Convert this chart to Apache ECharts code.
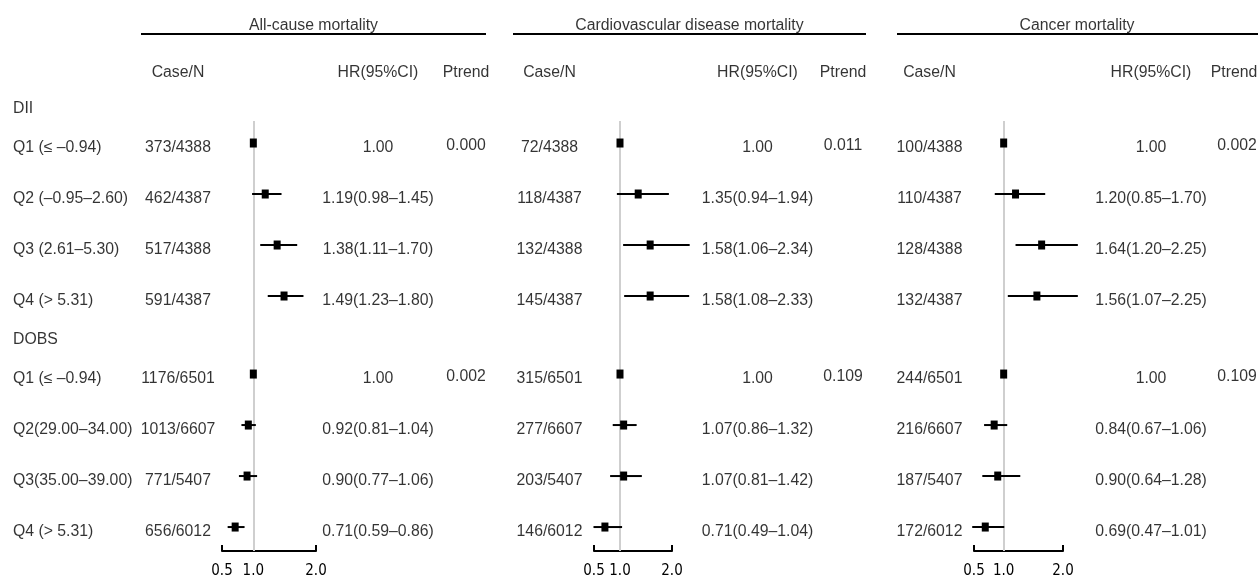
<!DOCTYPE html>
<html>
<head>
<meta charset="utf-8">
<script src="https://cdn.jsdelivr.net/npm/echarts@6/dist/echarts.min.js"></script>
<style>
  html, body { margin: 0; padding: 0; background: #fff; }
  #forest { width: 1258px; height: 578px; }
</style>
</head>
<body>
<div id="forest"></div>
<script>
// ---- data ----
const rowLabels = ['DII', 'Q1 (≤ –0.94)', 'Q2 (–0.95–2.60)', 'Q3 (2.61–5.30)', 'Q4 (> 5.31)',
                   'DOBS', 'Q1 (≤ –0.94)', 'Q2(29.00–34.00)', 'Q3(35.00–39.00)', 'Q4 (> 5.31)'];
const isHeading = [true, false, false, false, false, true, false, false, false, false];
const panelTitles = ['All-cause mortality', 'Cardiovascular disease mortality', 'Cancer mortality'];
const tickValues = [0.5, 1.0, 2.0];

const allCases = ['', '373/4388', '462/4387', '517/4388', '591/4387', '', '1176/6501', '1013/6607', '771/5407', '656/6012'];
const allHr = [null, 1.00, 1.19, 1.38, 1.49, null, 1.00, 0.92, 0.90, 0.71];
const allLo = [null, null, 0.98, 1.11, 1.23, null, null, 0.81, 0.77, 0.59];
const allHi = [null, null, 1.45, 1.70, 1.80, null, null, 1.04, 1.06, 0.86];
const allP = ['', '0.000', '', '', '', '', '0.002', '', '', ''];

const cvdCases = ['', '72/4388', '118/4387', '132/4388', '145/4387', '', '315/6501', '277/6607', '203/5407', '146/6012'];
const cvdHr = [null, 1.00, 1.35, 1.58, 1.58, null, 1.00, 1.07, 1.07, 0.71];
const cvdLo = [null, null, 0.94, 1.06, 1.08, null, null, 0.86, 0.81, 0.49];
const cvdHi = [null, null, 1.94, 2.34, 2.33, null, null, 1.32, 1.42, 1.04];
const cvdP = ['', '0.011', '', '', '', '', '0.109', '', '', ''];

const canCases = ['', '100/4388', '110/4387', '128/4388', '132/4387', '', '244/6501', '216/6607', '187/5407', '172/6012'];
const canHr = [null, 1.00, 1.20, 1.64, 1.56, null, 1.00, 0.84, 0.90, 0.69];
const canLo = [null, null, 0.85, 1.20, 1.07, null, null, 0.67, 0.64, 0.47];
const canHi = [null, null, 1.70, 2.25, 2.25, null, null, 1.06, 1.28, 1.01];
const canP = ['', '0.002', '', '', '', '', '0.109', '', '', ''];

// ---- layout ----
const W = 1258, H = 578;
const ROW_PX = 51, FIRST_ROW_PX = 104;      // one row unit = 51px, first row at y=104
const PLOT_TOP = 121, PLOT_BOTTOM = 551;
const FAMILY = '"Liberation Sans", Arial, sans-serif';
const FONT_SIZE = 15.8;
const TICK_FONT = '"Liberation Sans Narrow", "Arial Narrow", "DejaVu Sans Condensed", sans-serif';

// row positions in row units (heading rows sit closer)
let rowU = [];
let u = 0;
for (let i = 0; i < rowLabels.length; i++) {
    if (i > 0) u += (isHeading[i] || isHeading[i - 1]) ? 0.765 : 1;
    rowU.push(u);
}
const pxToU = px => (px - FIRST_ROW_PX) / ROW_PX;

const panels = [
    {cases: allCases, hr: allHr, lo: allLo, hi: allHi, p: allP, left: 222, width: 94, caseX: 178, hrX: 378, pX: 466, pHeadX: 466, line: [141, 486], titleX: 313.5},
    {cases: cvdCases, hr: cvdHr, lo: cvdLo, hi: cvdHi, p: cvdP, left: 594, width: 78, caseX: 549.5, hrX: 757.5, pX: 843, pHeadX: 843, line: [513, 866], titleX: 689.5},
    {cases: canCases, hr: canHr, lo: canLo, hi: canHi, p: canP, left: 974, width: 89, caseX: 929.5, hrX: 1151, pX: 1237, pHeadX: 1234, line: [897, 1258], titleX: 1077}
];

function hrText(hr, lo, hi) {
    if (hr === null) return '';
    if (lo === null) return hr.toFixed(2);
    return hr.toFixed(2) + '(' + lo.toFixed(2) + '–' + hi.toFixed(2) + ')';
}

// text column drawn as invisible scatter points carrying labels
function textSeries(points, align, dy) {
    return {
        type: 'scatter',
        xAxisIndex: 0,
        yAxisIndex: 0,
        silent: true,
        clip: false,
        z: 4,
        symbolSize: 0,
        emphasis: {disabled: true},
        data: points.map(p => ({name: p.text, value: [p.x, p.u]})),
        label: {
            show: true,
            position: 'inside',
            formatter: '{b}',
            align: align,
            verticalAlign: 'middle',
            offset: [0, (dy || 0) + 2],
            color: '#000',
            fontSize: FONT_SIZE,
            fontFamily: FAMILY
        }
    };
}

let chart = echarts.init(document.getElementById('forest'));

let grids = [{left: 0, top: 0, width: W, height: H, outerBoundsMode: 'none'}];
let xAxes = [{type: 'value', gridIndex: 0, min: 0, max: W, show: false}];
let yAxes = [{type: 'value', gridIndex: 0, inverse: true, min: pxToU(0), max: pxToU(H), show: false}];
let series = [];

// row labels column
series.push(textSeries(rowLabels.map((t, i) => ({x: 13, u: rowU[i], text: t})), 'left', 3));

panels.forEach((pn, k) => {
    let gi = k + 1;
    grids.push({left: pn.left, width: pn.width, top: PLOT_TOP, height: PLOT_BOTTOM - PLOT_TOP, outerBoundsMode: 'none'});
    xAxes.push({
        type: 'value', gridIndex: gi, min: 0.5, max: 2.0,
        axisLine: {show: true, lineStyle: {color: '#000', width: 2}},
        axisTick: {show: true, inside: true, length: 6, customValues: tickValues, lineStyle: {color: '#000', width: 2}},
        axisLabel: {show: true, customValues: tickValues, margin: 13, color: '#000',
                    fontFamily: TICK_FONT, fontSize: 15, formatter: v => v.toFixed(1)},
        splitLine: {show: false}
    });
    yAxes.push({type: 'value', gridIndex: gi, inverse: true,
                min: pxToU(PLOT_TOP), max: pxToU(PLOT_BOTTOM), show: false});

    // reference line at HR = 1
    series.push({
        type: 'line', xAxisIndex: gi, yAxisIndex: gi, data: [], z: 1, silent: true,
        markLine: {
            silent: true, symbol: 'none', animation: false, z: 1,
            label: {show: false},
            lineStyle: {color: '#cfcfcf', width: 2, type: 'solid'},
            data: [{xAxis: 1}]
        }
    });

    // CI lines and boxes
    let ciData = [];
    pn.hr.forEach((h, i) => {
        if (h === null) return;
        ciData.push([h, pn.lo[i] === null ? h : pn.lo[i], pn.hi[i] === null ? h : pn.hi[i], rowU[i]]);
    });
    series.push({
        type: 'custom', xAxisIndex: gi, yAxisIndex: gi, z: 10, silent: true, clip: false,
        data: ciData,
        renderItem: function (params, api) {
            let y = api.value(3);
            let pm = api.coord([api.value(0), y]);
            let pl = api.coord([api.value(1), y]);
            let ph = api.coord([api.value(2), y]);
            return {
                type: 'group',
                children: [
                    {type: 'line', shape: {x1: pl[0], y1: pl[1], x2: ph[0], y2: ph[1]},
                     style: {stroke: '#000', lineWidth: 2}},
                    {type: 'rect', shape: {x: pm[0] - 3.5, y: pm[1] - 4.5, width: 7, height: 9},
                     style: {fill: '#000'}}
                ]
            };
        }
    });

    // title + underline
    series.push(textSeries([{x: pn.titleX, u: pxToU(24), text: panelTitles[k]}], 'center', 0));
    series.push({
        type: 'custom', xAxisIndex: 0, yAxisIndex: 0, silent: true,
        data: [[pn.line[0], pn.line[1], pxToU(34)]],
        renderItem: function (params, api) {
            let a = api.coord([api.value(0), api.value(2)]);
            let b = api.coord([api.value(1), api.value(2)]);
            return {type: 'line', shape: {x1: a[0], y1: a[1], x2: b[0], y2: b[1]},
                    style: {stroke: '#000', lineWidth: 2}};
        }
    });

    // column headers
    series.push(textSeries([
        {x: pn.caseX, u: pxToU(71), text: 'Case/N'},
        {x: pn.hrX, u: pxToU(71), text: 'HR(95%CI)'},
        {x: pn.pHeadX, u: pxToU(71), text: 'Ptrend'}
    ], 'center', 0));

    // columns
    series.push(textSeries(pn.cases.map((t, i) => ({x: pn.caseX, u: rowU[i], text: t})), 'center', 3));
    series.push(textSeries(pn.hr.map((h, i) => ({x: pn.hrX, u: rowU[i], text: hrText(h, pn.lo[i], pn.hi[i])})), 'center', 3));
    series.push(textSeries(pn.p.map((t, i) => ({x: pn.pX, u: rowU[i], text: t})), 'center', 1));
});

chart.setOption({
    backgroundColor: '#fff',
    animation: false,
    grid: grids,
    xAxis: xAxes,
    yAxis: yAxes,
    series: series
});
</script>
</body>
</html>
